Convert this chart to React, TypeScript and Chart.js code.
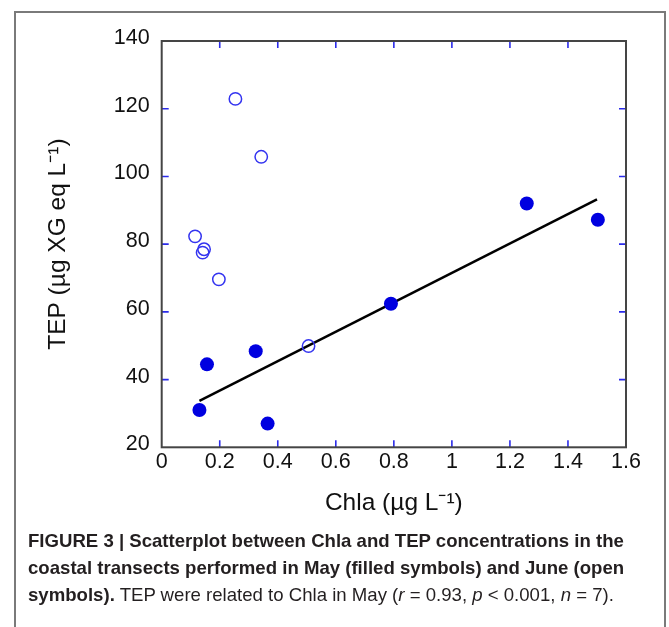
import React, { useEffect, useRef } from "react";
import { Chart, registerables } from "chart.js";

Chart.register(...registerables);

// May (filled symbols)
const mayChla = [0.13, 0.156, 0.324, 0.365, 0.79, 1.258, 1.503];
const mayTEP = [31, 44.5, 48.4, 27, 62.4, 92, 87.2];
// June (open symbols)
const juneChla = [0.115, 0.146, 0.141, 0.197, 0.254, 0.343, 0.506];
const juneTEP = [82.3, 78.5, 77.5, 69.6, 122.9, 105.8, 49.9];
// Regression line for May
const fitChla = [0.13, 1.5];
const fitTEP = [33.7, 93.2];

const xTicks = [0, 0.2, 0.4, 0.6, 0.8, 1, 1.2, 1.4, 1.6];
const xTickLabels = ["0", "0.2", "0.4", "0.6", "0.8", "1", "1.2", "1.4", "1.6"];
const yTicks = [20, 40, 60, 80, 100, 120, 140];
const yTickLabels = ["20", "40", "60", "80", "100", "120", "140"];

const FONT = "'Liberation Sans', Arial, Helvetica, sans-serif";

const framePlugin = {
  id: "frameTicks",
  beforeDatasetsDraw(chart: any) {
    const { ctx, chartArea: a, scales } = chart;
    const L = 7;
    ctx.save();
    ctx.strokeStyle = "#2b2bea";
    ctx.lineWidth = 1.6;
    const xs = scales.x.ticks;
    xs.forEach((t: any, i: number) => {
      if (i === 0 || i === xs.length - 1) return;
      const px = scales.x.getPixelForValue(t.value);
      ctx.beginPath();
      ctx.moveTo(px, a.bottom);
      ctx.lineTo(px, a.bottom - L);
      ctx.moveTo(px, a.top);
      ctx.lineTo(px, a.top + L);
      ctx.stroke();
    });
    const ys = scales.y.ticks;
    ys.forEach((t: any, i: number) => {
      if (i === 0 || i === ys.length - 1) return;
      const py = scales.y.getPixelForValue(t.value);
      ctx.beginPath();
      ctx.moveTo(a.left, py);
      ctx.lineTo(a.left + L, py);
      ctx.moveTo(a.right, py);
      ctx.lineTo(a.right - L, py);
      ctx.stroke();
    });
    ctx.strokeStyle = "#454545";
    ctx.lineWidth = 2;
    ctx.strokeRect(a.left, a.top, a.right - a.left, a.bottom - a.top);
    ctx.restore();
  },
};

export default function App() {
  const ref = useRef<HTMLCanvasElement | null>(null);

  useEffect(() => {
    if (!ref.current) return;
    const chart = new Chart(ref.current, {
      type: "scatter",
      data: {
        datasets: [
          {
            label: "May",
            data: mayChla.map((x, i) => ({ x, y: mayTEP[i] })),
            pointRadius: 7,
            pointBackgroundColor: "#0000e0",
            pointBorderWidth: 0,
            pointBorderColor: "#0000e0",
          },
          {
            label: "June",
            data: juneChla.map((x, i) => ({ x, y: juneTEP[i] })),
            pointRadius: 6.2,
            pointBackgroundColor: "rgba(0,0,0,0)",
            pointBorderWidth: 1.5,
            pointBorderColor: "#3434f0",
          },
          {
            type: "line",
            label: "fit",
            data: fitChla.map((x, i) => ({ x, y: fitTEP[i] })),
            borderColor: "#000000",
            borderWidth: 2.5,
            pointRadius: 0,
            fill: false,
          } as any,
        ],
      },
      options: {
        animation: false,
        responsive: false,
        maintainAspectRatio: false,
        layout: { padding: { left: 0, top: 41, right: 43, bottom: 0 } },
        plugins: {
          legend: { display: false },
          tooltip: { enabled: false },
        },
        scales: {
          x: {
            type: "linear",
            position: "bottom",
            min: xTicks[0],
            max: xTicks[xTicks.length - 1],
            afterBuildTicks: (s: any) => {
              s.ticks = xTicks.map((v) => ({ value: v }));
            },
            afterFit: (s: any) => {
              s.height = 82.7;
            },
            grid: { display: false, drawTicks: false },
            border: { display: false },
            ticks: {
              autoSkip: false,
              maxRotation: 0,
              padding: 2,
              color: "#111111",
              font: { family: FONT, size: 21.5 },
              callback: (_v: any, i: number) => xTickLabels[i],
            },
            title: {
              display: true,
              text: "Chla (µg L⁻¹)",
              color: "#111111",
              font: { family: FONT, size: 24.5 },
              padding: { top: 0, bottom: 12.3 },
            },
          },
          y: {
            type: "linear",
            position: "left",
            min: yTicks[0],
            max: yTicks[yTicks.length - 1],
            afterBuildTicks: (s: any) => {
              s.ticks = yTicks.map((v) => ({ value: v }));
            },
            afterFit: (s: any) => {
              s.width = 161.7;
            },
            grid: { display: false, drawTicks: false },
            border: { display: false },
            ticks: {
              autoSkip: false,
              padding: 12,
              labelOffset: -3,
              color: "#111111",
              font: { family: FONT, size: 21.5 },
              callback: (_v: any, i: number) => yTickLabels[i],
            },
            title: {
              display: true,
              text: "TEP (µg XG eq L⁻¹)",
              color: "#111111",
              font: { family: FONT, size: 24.5 },
              padding: { top: 43.3, bottom: 0 },
            },
          },
        },
      },
      plugins: [framePlugin],
    });
    return () => chart.destroy();
  }, []);

  const cap: React.CSSProperties = {
    position: "absolute",
    left: 28,
    top: 527,
    fontFamily: FONT,
    fontSize: 18.6,
    lineHeight: "27px",
    color: "#231f20",
    whiteSpace: "nowrap",
  };

  return (
    <div style={{ position: "absolute", left: 0, top: 0, width: 669, height: 627, overflow: "hidden", background: "#fff" }}>
      <div
        style={{
          position: "absolute",
          left: 14,
          top: 11,
          width: 652,
          height: 700,
          boxSizing: "border-box",
          border: "2px solid #7a7a7a",
        }}
      />
      <canvas
        ref={ref}
        width={669}
        height={530}
        style={{ position: "absolute", left: 0, top: 0, width: 669, height: 530 }}
      />
      <div style={cap}>
        <div style={{ fontWeight: "bold" }}>FIGURE 3 | Scatterplot between Chla and TEP concentrations in the</div>
        <div style={{ fontWeight: "bold" }}>coastal transects performed in May (filled symbols) and June (open</div>
        <div>
          <b>symbols).</b> TEP were related to Chla in May (<i>r</i> = 0.93, <i>p</i> &lt; 0.001, <i>n</i> = 7).
        </div>
      </div>
    </div>
  );
}
